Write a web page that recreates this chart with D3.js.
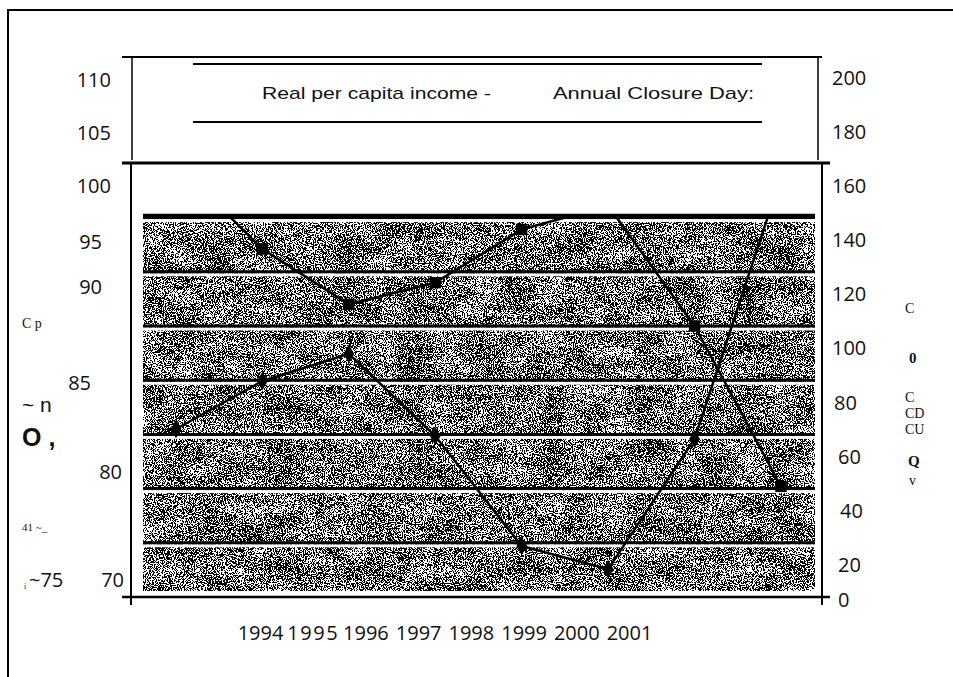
<!DOCTYPE html>
<html>
<head>
<meta charset="utf-8">
<script src="https://cdn.jsdelivr.net/npm/d3@7/dist/d3.min.js"></script>
<style>
  html, body { margin: 0; padding: 0; background: #fff; }
  svg { display: block; }
  .num { font-family: "Open Sans", sans-serif; font-size: 20px; fill: #111; }
  .legend { font-family: "Liberation Sans", Arial, sans-serif; font-size: 17px; fill: #111; }
</style>
</head>
<body>
<svg id="chart" width="953" height="677"></svg>
<script>
// ---- data ----
const years = [1994, 1995, 1996, 1997, 1998, 1999, 2000, 2001];
const incomeIndex = [100, 92.1, 87.0, 89.0, 93.9, 96.1, 85.0, 70.2];   // real per capita income (1994 = 100)
const closureDays = [62, 79.7, 89.7, 59.4, 18.8, 10.3, 58.3, 155];     // annual closure days
const leftTicks = [110, 105, 100, 95, 90, 85, 80, 70];
const rightTicks = [200, 180, 160, 140, 120, 100, 80, 60, 40, 20, 0];
const gridValues = [20, 40, 60, 80, 100, 120, 140];
const legendLabels = ["Real per capita income -", "Annual Closure Day:"];

// ---- layout ----
const W = 953, H = 677;
const axisLeftX = 131, axisRightX = 822, axisBottomY = 597, frameTop = 55;
const plot = { x0: 143, x1: 815, y0: 214, y1: 591 };

const svg = d3.select("#chart");

// value scales
const yLeft = d3.scaleLinear().domain([60, 110]).range([axisBottomY, frameTop]);
const yRight = d3.scaleLinear().domain([0, 200]).range([axisBottomY, frameTop]);
const x = d3.scalePoint().domain(years).range([176, 781]);

// scales that place the printed tick text
const leftLabelY = d3.scaleLinear().domain([70, 80, 85, 90, 95, 100, 105, 110])
  .range([580, 472, 383, 287, 242, 186, 133, 80]);
const rightLabelY = d3.scaleLinear().domain([0, 20, 200]).range([600, 565, 78]);
const xLabel = d3.scalePoint().domain(years).range([260, 629]);
const leftLabelShift = { 95: -9, 90: -9, 85: -20, 80: 11, 70: 13 };
const rightLabelShift = { 80: 2, 60: 6, 40: 8, 20: 6, 0: 6 };

// ---- grain texture ----
const defs = svg.append("defs");
const f = defs.append("filter").attr("id", "grain")
  .attr("x", 0).attr("y", 0).attr("width", 1).attr("height", 1)
  .attr("color-interpolation-filters", "sRGB");
f.append("feTurbulence").attr("type", "fractalNoise").attr("baseFrequency", 0.9)
  .attr("numOctaves", 2).attr("seed", 4).attr("result", "fineRaw");
f.append("feColorMatrix").attr("in", "fineRaw").attr("type", "matrix")
  .attr("values", "1 0 0 0 0  1 0 0 0 0  1 0 0 0 0  0 0 0 0 1").attr("result", "fine");
f.append("feTurbulence").attr("type", "fractalNoise").attr("baseFrequency", "0.03 0.05")
  .attr("numOctaves", 3).attr("seed", 11).attr("result", "blotRaw");
f.append("feColorMatrix").attr("in", "blotRaw").attr("type", "matrix")
  .attr("values", "1 0 0 0 0  1 0 0 0 0  1 0 0 0 0  0 0 0 0 1").attr("result", "blot");
f.append("feComposite").attr("in", "fine").attr("in2", "blot").attr("operator", "arithmetic")
  .attr("k1", 0).attr("k2", 2.0).attr("k3", 0.35).attr("k4", -0.7).attr("result", "mix");
const ct = f.append("feComponentTransfer").attr("in", "mix");
["feFuncR", "feFuncG", "feFuncB"].forEach(n => ct.append(n).attr("type", "discrete").attr("tableValues", "0 1"));
ct.append("feFuncA").attr("type", "linear").attr("slope", 0).attr("intercept", 1);

defs.append("clipPath").attr("id", "plotClip").append("rect")
  .attr("x", plot.x0).attr("y", plot.y0)
  .attr("width", plot.x1 - plot.x0).attr("height", plot.y1 - plot.y0);

// ---- outer frame ----
svg.append("path").attr("d", `M8,${H} V10 H${W}`)
  .attr("fill", "none").attr("stroke", "#000").attr("stroke-width", 2);

// ---- legend box ----
const legendBox = svg.append("g");
legendBox.append("line").attr("x1", 122).attr("x2", 822).attr("y1", 57).attr("y2", 57)
  .attr("stroke", "#000").attr("stroke-width", 2);
[132, 818].forEach(xx => legendBox.append("line").attr("x1", xx).attr("x2", xx)
  .attr("y1", 57).attr("y2", 160).attr("stroke", "#000").attr("stroke-width", 1.5));
[64, 122].forEach(yy => legendBox.append("line").attr("x1", 193).attr("x2", 762)
  .attr("y1", yy).attr("y2", yy).attr("stroke", "#000").attr("stroke-width", 2));
legendBox.append("text").attr("class", "legend").attr("x", 262).attr("y", 99)
  .attr("textLength", 229).attr("lengthAdjust", "spacingAndGlyphs").text(legendLabels[0]);
legendBox.append("text").attr("class", "legend").attr("x", 553).attr("y", 99)
  .attr("textLength", 201).attr("lengthAdjust", "spacingAndGlyphs").text(legendLabels[1]);
svg.append("line").attr("x1", 122).attr("x2", 830).attr("y1", 163).attr("y2", 163)
  .attr("stroke", "#000").attr("stroke-width", 3);

// ---- shaded plot area ----
svg.append("rect").attr("x", plot.x0).attr("y", plot.y0)
  .attr("width", plot.x1 - plot.x0).attr("height", plot.y1 - plot.y0)
  .attr("fill", "#fff").attr("filter", "url(#grain)");

// gridlines (right-axis values) with the light band printed under each
const grid = svg.append("g");
grid.selectAll("rect.band").data(gridValues).join("rect").attr("class", "band")
  .attr("x", plot.x0).attr("width", plot.x1 - plot.x0)
  .attr("y", d => yRight(d) + 1.5).attr("height", 3).attr("fill", "#fff");
grid.selectAll("line").data(gridValues).join("line")
  .attr("x1", plot.x0).attr("x2", plot.x1)
  .attr("y1", d => yRight(d)).attr("y2", d => yRight(d))
  .attr("stroke", "#000").attr("stroke-width", 3);
grid.append("line").attr("x1", plot.x0).attr("x2", plot.x1)
  .attr("y1", plot.y0 + 1).attr("y2", plot.y0 + 1)
  .attr("stroke", "#000").attr("stroke-width", 2.5);

// ---- axis lines ----
const axes = svg.append("g").attr("stroke", "#000");
axes.append("line").attr("x1", 122).attr("x2", 830).attr("y1", axisBottomY).attr("y2", axisBottomY).attr("stroke-width", 2.5);
[axisLeftX, axisRightX].forEach(xx => axes.append("line").attr("x1", xx).attr("x2", xx)
  .attr("y1", 164).attr("y2", 605).attr("stroke-width", 2));

// ---- series ----
const series = svg.append("g").attr("clip-path", "url(#plotClip)");
const incomeLine = d3.line().x((d, i) => x(years[i])).y(d => yLeft(d));
const closureLine = d3.line().x((d, i) => x(years[i])).y(d => yRight(d));
series.append("path").datum(incomeIndex).attr("d", incomeLine)
  .attr("fill", "none").attr("stroke", "#000").attr("stroke-width", 2.5);
series.append("path").datum(closureDays).attr("d", closureLine)
  .attr("fill", "none").attr("stroke", "#000").attr("stroke-width", 2.5);
series.selectAll("path.sq").data(incomeIndex).join("path").attr("class", "sq")
  .attr("d", d3.symbol(d3.symbolSquare, 130))
  .attr("transform", (d, i) => `translate(${x(years[i])},${yLeft(d)})`).attr("fill", "#000");
series.selectAll("path.dm").data(closureDays).join("path").attr("class", "dm")
  .attr("d", d3.symbol(d3.symbolDiamond, 100))
  .attr("transform", (d, i) => `translate(${x(years[i])},${yRight(d)})`).attr("fill", "#000");

// ---- tick labels ----
const gl = svg.append("g").attr("transform", `translate(${axisLeftX},0)`)
  .call(d3.axisLeft(leftLabelY).tickValues(leftTicks).tickSize(0).tickPadding(20).tickFormat(d3.format("d")));
gl.select(".domain").remove();
gl.selectAll("text").attr("class", "num").attr("dx", d => leftLabelShift[d] || 0);
gl.attr("font-size", null).attr("font-family", null);

const gr = svg.append("g").attr("transform", `translate(${axisRightX},0)`)
  .call(d3.axisRight(rightLabelY).tickValues(rightTicks).tickSize(0).tickPadding(10).tickFormat(d3.format("d")));
gr.select(".domain").remove();
gr.selectAll("text").attr("class", "num").attr("dx", d => rightLabelShift[d] || 0);
gr.attr("font-size", null).attr("font-family", null);

const gx = svg.append("g").attr("transform", `translate(0,${axisBottomY})`)
  .call(d3.axisBottom(xLabel).tickSize(0).tickPadding(29).tickFormat(d3.format("d")));
gx.select(".domain").remove();
gx.selectAll("text").attr("class", "num").style("letter-spacing", d => d === 1995 ? "1.5px" : null);
gx.attr("font-size", null).attr("font-family", null);

// ---- stray marks printed beside the axes ----
const notes = [
  { t: "C p", x: 22, y: 328, f: "Liberation Serif", s: 14, w: "normal" },
  { t: "~ n", x: 22, y: 412, f: "Liberation Sans", s: 21, w: "normal" },
  { t: "O ,", x: 22, y: 446, f: "Liberation Sans", s: 25, w: "bold" },
  { t: "41 ~_", x: 22, y: 531, f: "Liberation Serif", s: 11, w: "normal" },
  { t: "~75", x: 29, y: 587, f: "Open Sans", s: 20, w: "normal" },
  { t: "i", x: 24, y: 589, f: "Liberation Serif", s: 8, w: "normal" },
  { t: "C", x: 905, y: 313, f: "Liberation Serif", s: 14, w: "normal" },
  { t: "0", x: 909, y: 363, f: "Liberation Serif", s: 15, w: "bold" },
  { t: "C", x: 905, y: 402, f: "Liberation Serif", s: 14, w: "normal" },
  { t: "CD", x: 905, y: 418, f: "Liberation Serif", s: 14, w: "normal" },
  { t: "CU", x: 905, y: 434, f: "Liberation Serif", s: 14, w: "normal" },
  { t: "Q", x: 908, y: 466, f: "Liberation Serif", s: 15, w: "bold" },
  { t: "v", x: 909, y: 485, f: "Liberation Serif", s: 14, w: "normal" }
];
svg.append("g").selectAll("text").data(notes).join("text")
  .attr("x", d => d.x).attr("y", d => d.y).attr("font-family", d => d.f)
  .attr("font-size", d => d.s).attr("font-weight", d => d.w).attr("fill", "#111")
  .text(d => d.t);
</script>
</body>
</html>
